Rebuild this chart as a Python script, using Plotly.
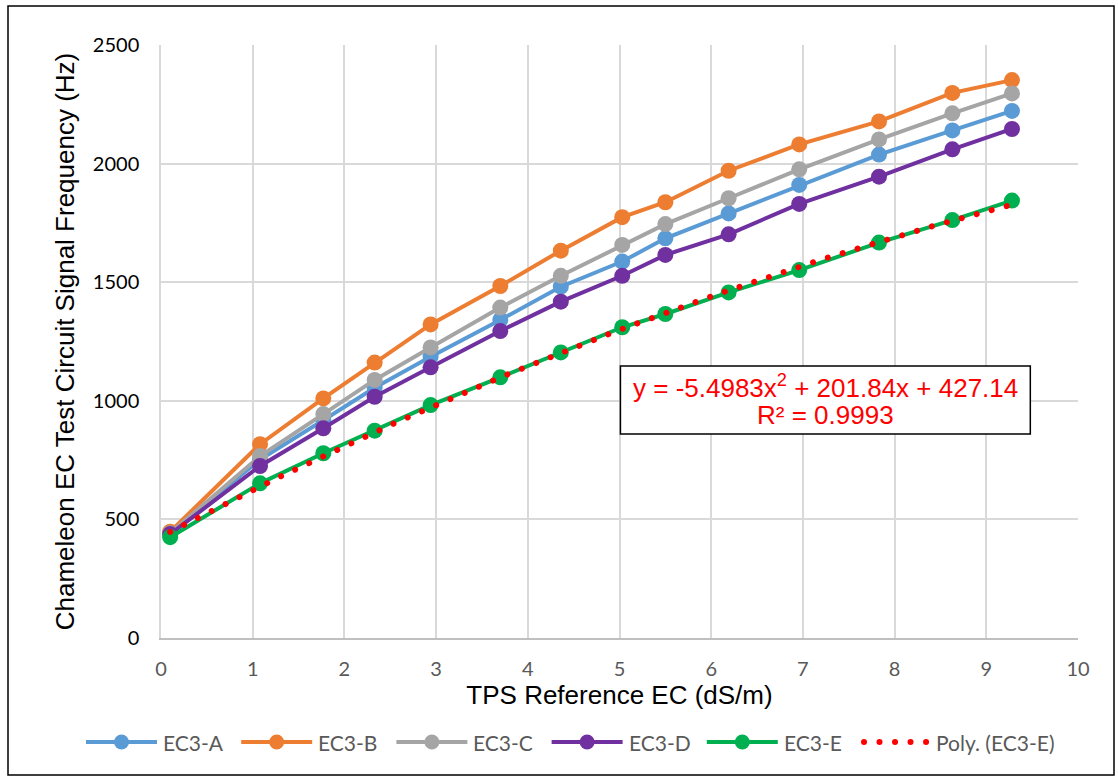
import numpy as np
import plotly.graph_objects as go

# ---- data ----
tps_ec = [0.10, 1.08, 1.77, 2.33, 2.94, 3.70, 4.36, 5.03, 5.50, 6.19, 6.96, 7.83, 8.63, 9.28]
ec3_a = [441, 752, 918, 1055, 1186, 1341, 1481, 1587, 1685, 1790, 1910, 2038, 2140, 2222]
ec3_b = [448, 817, 1010, 1161, 1322, 1484, 1633, 1774, 1837, 1970, 2081, 2178, 2298, 2352]
ec3_c = [442, 767, 944, 1088, 1225, 1393, 1527, 1657, 1745, 1854, 1976, 2102, 2212, 2296]
ec3_d = [438, 725, 884, 1017, 1141, 1294, 1418, 1527, 1615, 1702, 1830, 1945, 2060, 2146]
ec3_e = [425, 652, 779, 874, 982, 1099, 1204, 1310, 1366, 1457, 1551, 1667, 1762, 1844]
series_names = ["EC3-A", "EC3-B", "EC3-C", "EC3-D", "EC3-E"]
series_colors = ["#5B9BD5", "#ED7D31", "#A5A5A5", "#7030A0", "#00B050"]
trend_name = "Poly. (EC3-E)"
trend_color = "#FF0000"
# trendline coefficients shown in the chart (y = c2 x^2 + c1 x + c0)
poly_coef = [-5.4983, 201.84, 427.14]
eq_line1 = "y = -5.4983x<sup>2</sup> + 201.84x + 427.14"
eq_line2 = "R² = 0.9993"
x_ticks = list(range(0, 11))
y_ticks = [0, 500, 1000, 1500, 2000, 2500]

W, H = 1118, 776
ML, MR, MT, MB = 161, 40, 45, 138
PW, PH = W - ML - MR, H - MT - MB


def px2x(px):
    return (px - ML) / PW


def py2y(py):
    return (H - MB - py) / PH


fig = go.Figure()
for name, vals, col in zip(series_names, [ec3_a, ec3_b, ec3_c, ec3_d, ec3_e], series_colors):
    fig.add_trace(go.Scatter(
        x=tps_ec, y=vals, name=name, mode="lines+markers",
        line=dict(color=col, width=4),
        marker=dict(color=col, size=16),
    ))

xs = np.linspace(tps_ec[0], tps_ec[-1], 300)
ys = np.polyval(poly_coef, xs)
fig.add_trace(go.Scatter(
    x=xs, y=ys, name=trend_name, mode="lines",
    line=dict(color=trend_color, width=6, dash="5px,10px"),
))

shapes = [
    dict(type="rect", xref="paper", yref="paper", x0=px2x(8), x1=px2x(1114),
         y0=py2y(775), y1=py2y(6), line=dict(color="black", width=1.5),
         fillcolor="rgba(0,0,0,0)"),
    dict(type="rect", xref="x", yref="y", x0=5.01, x1=9.48, y0=860, y1=1147,
         line=dict(color="black", width=1.5), fillcolor="white", layer="above"),
]
annotations = [
    dict(x=7.245, y=1062, xref="x", yref="y", text=eq_line1, showarrow=False,
         font=dict(family="Liberation Sans, Arial", size=26, color="#FF0000"),
         xanchor="center", yanchor="middle"),
    dict(x=7.245, y=940, xref="x", yref="y", text=eq_line2, showarrow=False,
         font=dict(family="Liberation Sans, Arial", size=26, color="#FF0000"),
         xanchor="center", yanchor="middle"),
]

# ---- custom legend (Excel-style long symbols) ----
leg_y = py2y(742)
leg_font = dict(family="Lato, Carlito, sans-serif", size=21, color="#595959")
step = 155.2
for i, (name, col) in enumerate(zip(series_names, series_colors)):
    x0 = 86 + i * step
    x1 = x0 + 71
    xm = (x0 + x1) / 2
    shapes.append(dict(type="line", xref="paper", yref="paper", x0=px2x(x0), x1=px2x(x1),
                       y0=leg_y, y1=leg_y, line=dict(color=col, width=4)))
    r = 7.5
    shapes.append(dict(type="circle", xref="paper", yref="paper",
                       x0=px2x(xm - r), x1=px2x(xm + r), y0=py2y(742 + r), y1=py2y(742 - r),
                       fillcolor=col, line=dict(color=col, width=0)))
    annotations.append(dict(x=px2x(x1 + 4), y=leg_y, xref="paper", yref="paper", text=name,
                            showarrow=False, xanchor="left", yanchor="middle", font=leg_font))
dot_index = len(shapes)
shapes.append(dict(type="line", xref="paper", yref="paper", x0=px2x(864), x1=px2x(926.5),
                   y0=leg_y, y1=leg_y, line=dict(color=trend_color, width=6, dash="6px,9.5px")))
annotations.append(dict(x=px2x(934), y=leg_y, xref="paper", yref="paper", text=trend_name,
                        showarrow=False, xanchor="left", yanchor="middle", font=leg_font))

fig.update_layout(
    width=W, height=H,
    margin=dict(l=ML, r=MR, t=MT, b=MB),
    paper_bgcolor="white", plot_bgcolor="white",
    showlegend=False,
    xaxis=dict(
        range=[0, 10], tickvals=x_ticks, showgrid=True, gridcolor="#D9D9D9", gridwidth=1.5,
        showline=True, linecolor="#BFBFBF", linewidth=1.5, zeroline=False, ticks="",
        ticklabelstandoff=12,
        tickfont=dict(family="Lato, Carlito, sans-serif", size=20, color="#595959"),
        title=dict(text="TPS Reference EC (dS/m)", standoff=4,
                   font=dict(family="Liberation Sans, Arial", size=26, color="black")),
    ),
    yaxis=dict(
        range=[0, 2500], tickvals=y_ticks, showgrid=True, gridcolor="#D9D9D9", gridwidth=1.5,
        showline=True, linecolor="#D9D9D9", linewidth=1.5, zeroline=False, ticks="",
        ticklabelstandoff=16,
        tickfont=dict(family="Lato, Carlito, sans-serif", size=20, color="black"),
        title=dict(text="Chameleon EC Test Circuit Signal Frequency (Hz)", standoff=11,
                   font=dict(family="Liberation Sans, Arial", size=26, color="black")),
    ),
    shapes=shapes,
    annotations=annotations,
)

post = """
document.body.style.margin='0';
document.documentElement.style.margin='0';
var s=document.createElement('style');
s.innerHTML='.scatterlayer .trace:last-child path.js-line, .shapelayer path[data-index="%d"]{stroke-linecap:round !important;stroke-dasharray:0.01px 15.5px !important;}';
document.head.appendChild(s);
""" % dot_index
fig.write_html("out.html", post_script=post, config={"displayModeBar": False})
